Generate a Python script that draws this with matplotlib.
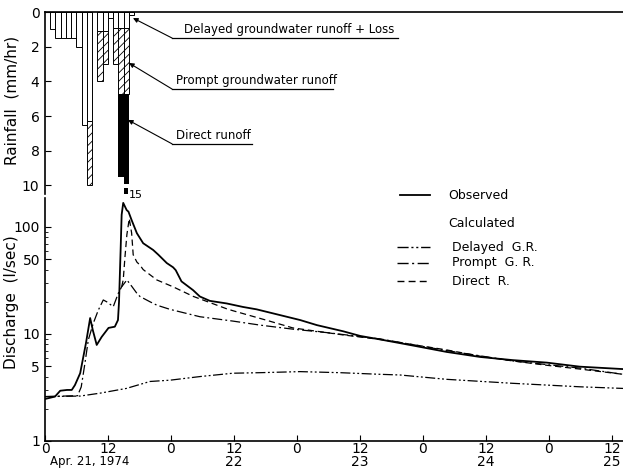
import numpy as np
import matplotlib
matplotlib.use('Agg')
import matplotlib.pyplot as plt
from matplotlib.ticker import FixedLocator, NullFormatter

# hourly rainfall split (mm/hr), hour 0 = Apr 21 00:00
rain_loss = [0, 1.0, 1.5, 1.5, 1.5, 1.5, 2.0, 6.5, 6.3, 0, 1.1, 1.1, 0.35, 0.95, 0.95, 0.95, 0.2]
rain_prompt = [0, 0, 0, 0, 0, 0, 0, 0, 3.7, 0, 2.9, 1.9, 0, 2.05, 3.75, 3.75, 0]
rain_direct = [0, 0, 0, 0, 0, 0, 0, 0, 0, 0, 0, 0, 0, 0, 4.8, 10.3, 0]

# discharge (l/sec) vs hours
obs_t = [0, 1.9, 2.9, 4.2, 5.1, 5.7, 6.7, 7.8, 8.6, 9.1, 9.85, 10.8, 12.1, 13.3, 13.9,
         14.1, 14.4, 14.6, 14.9, 15.55, 15.9, 16.5, 17.5, 18.7, 20.6, 21.6, 23.2, 24.4,
         24.9, 26.0, 28.2, 29.5, 31.4, 34.6, 37.7, 40.3, 44.1, 48.6, 51.8, 56.8, 60.0,
         63.8, 70.1, 76.5, 82.9, 89.1, 95.6, 101.9, 110.1]
obs_q = [2.47, 2.6, 2.95, 3.0, 3.0, 3.33, 4.3, 8.2, 14.1, 10.9, 7.9, 9.4, 11.4, 11.7, 13.5,
         20, 60, 130, 168, 144, 139, 116, 87.5, 70.5, 61, 55, 46, 42,
         39.5, 31, 25.7, 22.4, 20.4, 19.3, 17.9, 17.0, 15.3, 13.5, 12.1, 10.6, 9.6,
         8.9, 7.8, 6.8, 6.1, 5.7, 5.4, 4.95, 4.7]

delayed_t = [0, 6.7, 10.5, 15.5, 20, 23.8, 29.5, 35.8, 41, 48.6, 56.2, 63.8, 67.6, 76.5, 89.1, 101.9, 110.1]
delayed_q = [2.6, 2.63, 2.8, 3.1, 3.6, 3.7, 4.0, 4.3, 4.35, 4.45, 4.35, 4.2, 4.14, 3.77, 3.46, 3.21, 3.1]

prompt_t = [0, 6.2, 6.9, 7.6, 8.25, 9.2, 10.15, 11.1, 11.75, 13.0, 13.96, 14.6, 15.6, 16.5,
            17.5, 18.1, 20.0, 21.3, 23.8, 29.5, 35.8, 41.0, 47.2, 53.7, 63.8, 76.5, 89.1, 101.9, 110.1]
prompt_q = [2.6, 2.65, 3.2, 5.3, 8.8, 12.6, 16.7, 20.8, 20.0, 18.0, 24.0, 27.6, 32.0, 28.0,
            24.0, 22.4, 20.0, 18.6, 17.0, 14.5, 13.2, 12.1, 11.1, 10.3, 9.0, 7.0, 5.6, 4.8, 4.2]

direct_t = [14.6, 14.9, 15.24, 15.6, 16.05, 16.5, 16.8, 17.5, 18.1, 18.7, 21.3, 24.4, 28.2,
            29.5, 34.6, 35.8, 42.3, 47.2, 56.8, 63.8, 76.5, 82.9, 89.1, 95.6, 101.9, 110.1]
direct_q = [27.6, 32, 53, 85, 120, 88, 55, 47, 44, 40, 32, 27.6, 22.5,
            21.3, 17.2, 16.5, 13.4, 11.4, 9.8, 8.9, 7.1, 6.2, 5.6, 5.1, 4.7, 4.2]

xtick_pos = [0, 12, 24, 36, 48, 60, 72, 84, 96, 108]
xtick_labels = ['0', '12', '0', '12\n22', '0', '12\n23', '0', '12\n24', '0', '12\n25']

plt.rcParams['font.family'] = 'DejaVu Sans'
plt.rcParams['hatch.linewidth'] = 0.6

fig = plt.figure(figsize=(6.23, 4.68), dpi=100)
ax_r = fig.add_axes([45/623, 1 - 194/468, 578/623, 182/468])
ax_q = fig.add_axes([45/623, 1 - 441/468, 578/623, 243/468])

# ---- rainfall hyetograph
hours = np.arange(len(rain_loss))
loss = np.array(rain_loss)
prompt = np.array(rain_prompt)
direct = np.array(rain_direct)
r_lim = 10.49
m = loss > 0
ax_r.bar(hours[m], loss[m], width=1, align='edge', facecolor='white', edgecolor='black', lw=0.7)
m = prompt > 0
ax_r.bar(hours[m], prompt[m], bottom=loss[m], width=1, align='edge', facecolor='white',
         edgecolor='black', hatch='////', lw=0.7)
top = loss + prompt
total = top + direct
offscale = total > r_lim
shown = np.where(offscale, 9.9, total) - top
m = direct > 0
ax_r.bar(hours[m], shown[m], bottom=top[m], width=1, align='edge', color='black', lw=0.5)
# broken off-scale bar with its value
for h in hours[offscale]:
    ax_r.bar(h + 0.05, 0.35, bottom=10.15, width=0.7, align='edge', color='black', clip_on=False)
    ax_r.text(h + 1.0, 10.25, '%d' % round(total[h]), fontsize=8, va='top', ha='left')

ax_r.set_xlim(0, 110.1)
ax_r.set_ylim(r_lim, 0)
ax_r.spines['right'].set_visible(False)
ax_r.spines['bottom'].set_visible(False)
ax_r.spines['top'].set_linewidth(1.2)
ax_r.spines['left'].set_linewidth(1.2)
ax_r.set_xticks([])
ax_r.set_yticks([0, 2, 4, 6, 8, 10])
ax_r.tick_params(axis='y', direction='in', length=4, labelsize=10, pad=4)

# labels with leader lines
notes = [('Delayed groundwater runoff + Loss', 16.76, 0.35, 1.5, 67.2, 26.5),
         ('Prompt groundwater runoff', 16.0, 2.94, 4.44, 54.9, 25.0),
         ('Direct runoff', 15.8, 6.22, 7.6, 39.4, 25.0)]
for txt, hx, dy, ly, xend, tx in notes:
    ax_r.annotate('', xy=(hx, dy), xytext=(24.2, ly),
                  arrowprops=dict(arrowstyle='-|>', lw=0.8, color='black', mutation_scale=7,
                                  shrinkA=0, shrinkB=0))
    ax_r.plot([24.2, xend], [ly, ly], color='black', lw=0.9)
    ax_r.text(tx, ly - 0.12, txt, fontsize=8.5, ha='left', va='bottom')

# ---- discharge
ax_q.plot(obs_t, obs_q, color='black', lw=1.3)
ax_q.plot(delayed_t, delayed_q, color='black', lw=0.9, ls=(0, (8, 2, 1.5, 2, 1.5, 2)))
ax_q.plot(prompt_t, prompt_q, color='black', lw=0.9, ls=(0, (8, 2.5, 1.5, 2.5)))
ax_q.plot(direct_t, direct_q, color='black', lw=0.9, ls=(0, (5, 3)))
ax_q.set_yscale('log')
ax_q.set_xlim(0, 110.1)
ax_q.set_ylim(1, 186.6)
ax_q.yaxis.set_major_locator(FixedLocator([1, 5, 10, 50, 100]))
ax_q.set_yticklabels(['1', '5', '10', '50', '100'])
ax_q.yaxis.set_minor_locator(FixedLocator([2, 3, 4, 6, 7, 8, 9, 20, 30, 40, 60, 70, 80, 90]))
ax_q.yaxis.set_minor_formatter(NullFormatter())
ax_q.set_xticks(xtick_pos)
ax_q.set_xticklabels(xtick_labels, linespacing=0.85)
ax_q.spines['right'].set_visible(False)
ax_q.spines['top'].set_visible(False)
ax_q.spines['left'].set_linewidth(1.2)
ax_q.spines['bottom'].set_linewidth(1.2)
ax_q.tick_params(axis='both', which='major', direction='in', length=4, labelsize=10)
ax_q.tick_params(axis='y', which='minor', direction='in', length=2.5)
ax_q.tick_params(axis='x', pad=1)

fig.text(90/623, 1 - 462/468, 'Apr. 21, 1974', fontsize=8.5, ha='center', va='center')

# legend drawn by hand
tr = ax_q.transAxes
ax_q.plot([0.614, 0.666], [1.012, 1.012], color='black', lw=1.3, transform=tr, clip_on=False)
ax_q.text(0.697, 1.012, 'Observed', fontsize=9, va='center', transform=tr)
ax_q.text(0.697, 0.897, 'Calculated', fontsize=9, va='center', transform=tr)
leg = [('Delayed  G.R.', 0.798, (0, (8, 2, 1.5, 2, 1.5, 2))),
       ('Prompt  G. R.', 0.733, (0, (8, 2.5, 1.5, 2.5))),
       ('Direct  R.', 0.658, (0, (5, 3)))]
for name, yy, ls in leg:
    ax_q.plot([0.609, 0.666], [yy, yy], color='black', lw=1.0, ls=ls, transform=tr)
    ax_q.text(0.704, yy, name, fontsize=9, va='center', transform=tr)

fig.text(12/623, 1 - 100/468, 'Rainfall  (mm/hr)', rotation=90, fontsize=11, ha='center', va='center')
fig.text(12/623, 1 - 302/468, 'Discharge  (l/sec)', rotation=90, fontsize=11, ha='center', va='center')

fig.savefig('out.png', dpi=100)
